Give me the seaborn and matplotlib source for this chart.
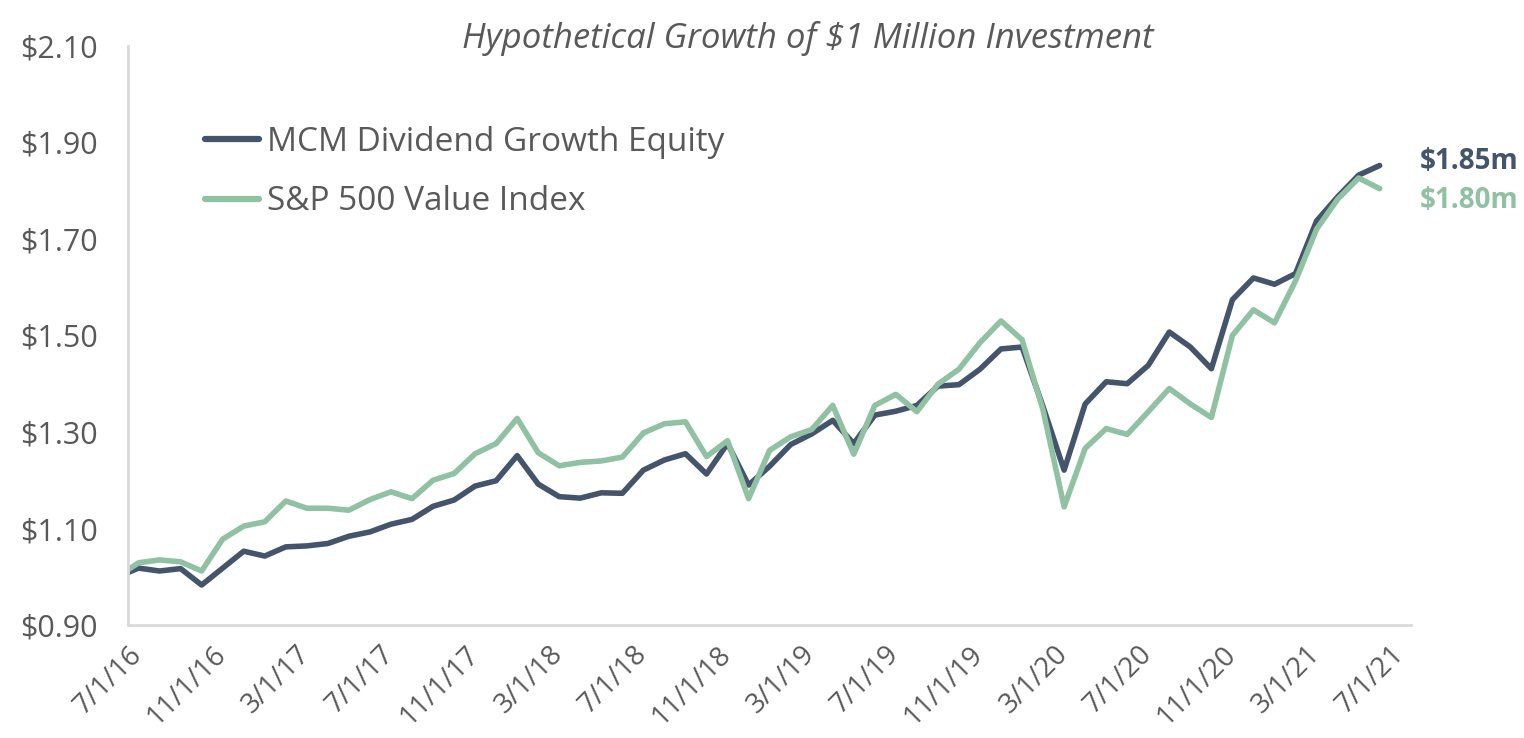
import matplotlib
matplotlib.use("Agg")
import matplotlib.pyplot as plt
import matplotlib.ticker as mticker
import seaborn as sns
import pandas as pd
import numpy as np

# month-end values, 6/30/16 .. 6/30/21
dates = pd.date_range("2016-06-30", periods=61, freq="ME")

mcm = [1.000, 1.018, 1.012, 1.017, 0.983, 1.018, 1.053, 1.043, 1.062, 1.064,
       1.069, 1.084, 1.093, 1.109, 1.119, 1.146, 1.159, 1.188, 1.199, 1.251,
       1.192, 1.166, 1.163, 1.174, 1.173, 1.221, 1.242, 1.255, 1.213, 1.276,
       1.190, 1.229, 1.274, 1.296, 1.324, 1.276, 1.335, 1.343, 1.355, 1.395,
       1.398, 1.430, 1.472, 1.476, 1.352, 1.221, 1.358, 1.404, 1.400, 1.438,
       1.507, 1.476, 1.431, 1.574, 1.619, 1.606, 1.628, 1.737, 1.787, 1.832,
       1.852]

spv = [1.000, 1.029, 1.035, 1.031, 1.012, 1.078, 1.105, 1.114, 1.157, 1.142,
       1.142, 1.138, 1.160, 1.176, 1.162, 1.200, 1.214, 1.255, 1.276, 1.328,
       1.257, 1.230, 1.237, 1.240, 1.248, 1.298, 1.317, 1.321, 1.249, 1.282,
       1.162, 1.262, 1.290, 1.305, 1.355, 1.254, 1.355, 1.378, 1.342, 1.399,
       1.430, 1.485, 1.530, 1.491, 1.345, 1.145, 1.266, 1.307, 1.295, 1.342,
       1.390, 1.358, 1.330, 1.500, 1.553, 1.526, 1.613, 1.720, 1.782, 1.826,
       1.804]

series_names = ["MCM Dividend Growth Equity", "S&P 500 Value Index"]
end_labels = ["$1.85m", "$1.80m"]
tick_labels = ["7/1/16", "11/1/16", "3/1/17", "7/1/17", "11/1/17", "3/1/18",
               "7/1/18", "11/1/18", "3/1/19", "7/1/19", "11/1/19", "3/1/20",
               "7/1/20", "11/1/20", "3/1/21", "7/1/21"]

colors = {"MCM Dividend Growth Equity": "#44546A", "S&P 500 Value Index": "#8FC1A2"}
text_gray = "#595959"
axis_gray = "#D9D9D9"

# x position: months since 7/1/16, each month centred between ticks
pos = (dates.year - 2016) * 12 + dates.month - 7 + 0.5
df = pd.concat([
    pd.DataFrame({"pos": pos, "value": mcm, "series": series_names[0]}),
    pd.DataFrame({"pos": pos, "value": spv, "series": series_names[1]}),
])

sns.set_style("white")
plt.rcParams["font.family"] = ["Open Sans", "DejaVu Sans"]

fig = plt.figure(figsize=(15.24, 7.38), dpi=100)
ax = fig.add_axes([0.084, 0.153, 0.842, 0.785])

sns.lineplot(data=df, x="pos", y="value", hue="series", palette=colors,
             linewidth=4.0, ax=ax, legend=True)
for ln in ax.lines:
    ln.set_solid_capstyle("round")
    ln.set_solid_joinstyle("round")

ax.set_xlim(0, 61)
ax.set_ylim(0.9, 2.1)
ax.set_xticks(np.arange(0, 61, 4))
ax.set_xticklabels(tick_labels, rotation=45, ha="right", rotation_mode="anchor")
ax.set_yticks(np.arange(0.9, 2.11, 0.2))
ax.yaxis.set_major_formatter(mticker.FuncFormatter(lambda v, p: "\\$%.2f" % v))
ax.set_xlabel("")
ax.set_ylabel("")

for s in ["top", "right"]:
    ax.spines[s].set_visible(False)
for s in ["left", "bottom"]:
    ax.spines[s].set_color(axis_gray)
    ax.spines[s].set_linewidth(2)
ax.tick_params(axis="both", colors=axis_gray, width=2, length=10, direction="out")
ax.tick_params(axis="y", labelsize=22, labelcolor=text_gray, pad=12)
ax.tick_params(axis="x", labelsize=20, labelcolor=text_gray, pad=3, length=8)

ax.set_title("Hypothetical Growth of \\$1 Million Investment", fontsize=25,
             style="italic", color=text_gray, x=0.53, y=1.013, va="center", pad=0)

leg = ax.legend(loc="upper left", bbox_to_anchor=(0.037, 0.914), frameon=False,
                fontsize=24, handlelength=1.6, handletextpad=0.25, labelspacing=0.8)
for txt in leg.get_texts():
    txt.set_color(text_gray)
for h in leg.legend_handles:
    h.set_linewidth(4.5)
    h.set_solid_capstyle("round")

last_vals = [mcm[-1], spv[-1]]
offsets = [0.008, -0.025]
for name, lab, v, off in zip(series_names, end_labels, last_vals, offsets):
    ax.text(61.4, v + off, lab.replace("$", "\\$"), color=colors[name], fontsize=20,
            fontweight="bold", va="center", ha="left", clip_on=False)

fig.savefig("out.png", dpi=100)
